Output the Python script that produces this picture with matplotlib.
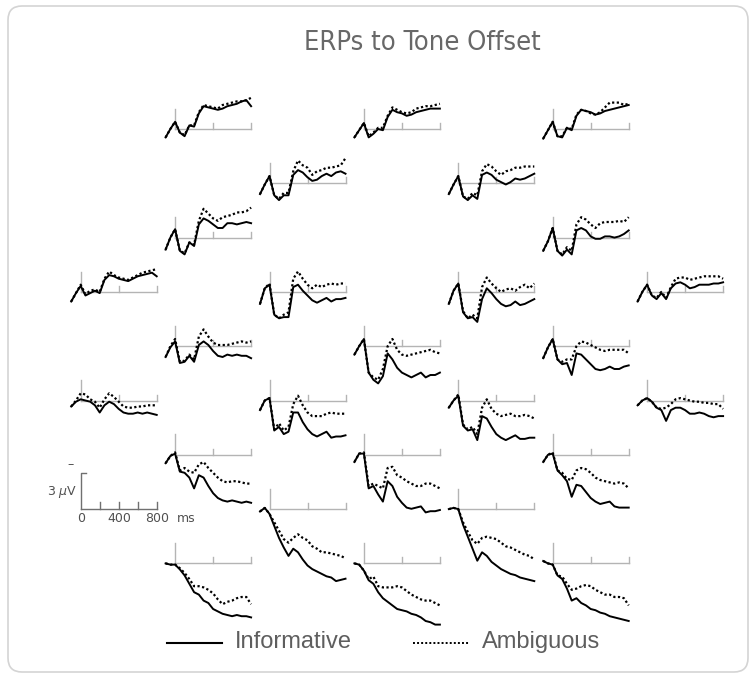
import numpy as np
import matplotlib
matplotlib.use('Agg')
import matplotlib.pyplot as plt
from matplotlib.patches import FancyBboxPatch
from matplotlib import font_manager

# time axis of every waveform (ms after tone offset)
times = list(range(-100, 801, 50))

# amplitudes in microvolts (negative plotted up), informative / ambiguous
# row 1
inf_01 = [0.7, 0.0, -0.6, 0.3, 0.6, -0.3, -0.2, -1.3, -1.9, -1.8, -1.7, -1.6, -1.7, -1.9, -2.0, -2.1, -2.3, -2.4, -1.9]
amb_01 = [0.7, 0.0, -0.6, 0.3, 0.5, -0.3, -0.3, -1.4, -2.0, -1.9, -1.8, -1.7, -2.0, -2.1, -2.2, -2.3, -2.3, -2.4, -2.6]
inf_02 = [0.7, 0.1, -0.5, 0.7, 0.4, 0.0, 0.1, -1.0, -1.6, -1.4, -1.3, -1.1, -1.2, -1.4, -1.5, -1.6, -1.7, -1.7, -1.7]
amb_02 = [0.7, 0.1, -0.5, 0.6, 0.3, -0.1, -0.1, -1.1, -1.8, -1.6, -1.4, -1.3, -1.4, -1.7, -1.8, -1.9, -1.9, -2.0, -2.1]
inf_03 = [0.8, 0.1, -0.6, 0.6, 0.7, -0.1, 0.1, -1.1, -1.6, -1.5, -1.4, -1.2, -1.3, -1.5, -1.6, -1.7, -1.8, -1.9, -2.0]
amb_03 = [0.8, 0.1, -0.6, 0.6, 0.6, -0.1, 0.0, -1.2, -1.6, -1.5, -1.3, -1.2, -1.4, -1.8, -2.2, -2.2, -2.2, -2.0, -2.1]
# row 2
inf_04 = [0.9, 0.1, -0.6, 1.0, 1.4, 1.0, 1.0, -0.7, -1.1, -0.9, -0.5, -0.2, -0.3, -0.6, -0.8, -0.6, -0.9, -1.0, -0.8]
amb_04 = [0.9, 0.1, -0.6, 1.0, 1.3, 0.8, 0.8, -1.0, -1.9, -1.5, -1.3, -0.7, -1.0, -1.1, -1.3, -1.3, -1.4, -1.5, -2.1]
inf_05 = [0.9, 0.1, -0.6, 1.1, 1.4, 1.0, 1.3, -0.7, -0.9, -0.7, -0.3, -0.1, 0.1, -0.1, -0.4, -0.3, -0.4, -0.6, -0.8]
amb_05 = [0.9, 0.1, -0.6, 1.1, 1.3, 0.8, 1.0, -1.0, -1.6, -1.4, -1.0, -0.7, -1.0, -1.1, -1.3, -1.3, -1.4, -1.4, -1.4]
# row 3
inf_06 = [1.0, 0.0, -0.7, 1.1, 1.4, 0.4, 0.7, -1.1, -1.6, -1.4, -1.1, -0.8, -0.8, -1.2, -1.2, -1.1, -1.2, -1.3, -1.2]
amb_06 = [1.0, 0.0, -0.7, 1.1, 1.3, 0.4, 0.6, -1.4, -2.4, -2.0, -1.6, -1.4, -1.7, -1.8, -1.9, -2.1, -2.1, -2.2, -2.5]
inf_07 = [1.1, 0.3, -0.8, 1.1, 1.5, 1.0, 1.4, -0.6, -0.8, -0.6, -0.1, 0.1, 0.1, -0.1, -0.1, 0.0, -0.1, -0.3, -0.6]
amb_07 = [1.1, 0.3, -0.8, 1.1, 1.4, 0.8, 1.1, -1.1, -1.7, -1.5, -1.1, -0.8, -1.2, -1.3, -1.3, -1.3, -1.4, -1.3, -1.7]
# row 4
inf_08 = [0.8, 0.1, -0.5, 0.3, 0.1, -0.1, 0.1, -1.0, -1.4, -1.3, -1.1, -1.0, -0.9, -1.1, -1.3, -1.4, -1.5, -1.6, -1.3]
amb_08 = [0.8, 0.1, -0.6, 0.2, -0.1, -0.2, 0.0, -1.1, -1.7, -1.4, -1.2, -1.1, -1.0, -1.2, -1.4, -1.6, -1.7, -1.8, -1.9]
inf_09 = [1.0, -0.3, -0.6, 1.9, 2.2, 2.1, 2.1, -0.4, -0.6, -0.1, 0.3, 0.7, 0.9, 0.7, 0.5, 0.8, 0.6, 0.6, 0.5]
amb_09 = [1.0, -0.3, -0.7, 1.9, 2.2, 1.9, 1.7, -1.1, -1.7, -1.1, -0.6, -0.3, -0.6, -0.4, -0.6, -0.7, -0.6, -0.7, -0.7]
inf_10 = [1.0, -0.1, -0.7, 1.7, 2.2, 2.1, 2.5, 0.6, -0.3, 0.1, 0.6, 1.0, 1.2, 1.1, 0.8, 1.1, 1.0, 0.8, 0.6]
amb_10 = [1.0, -0.1, -0.7, 1.6, 2.2, 1.9, 2.2, -0.4, -1.2, -0.7, -0.3, 0.0, -0.2, -0.3, -0.1, -0.4, -0.6, -0.3, -0.7]
inf_11 = [0.8, 0.0, -0.6, 0.3, 0.6, 0.1, 0.6, -0.3, -0.7, -0.8, -0.6, -0.3, -0.4, -0.6, -0.6, -0.6, -0.7, -0.7, -0.8]
amb_11 = [0.8, 0.0, -0.6, 0.3, 0.5, 0.0, 0.5, -0.4, -1.1, -1.2, -1.2, -1.0, -1.1, -1.2, -1.3, -1.3, -1.3, -1.3, -1.1]
# row 5
inf_12 = [0.9, 0.1, -0.4, 1.4, 1.3, 0.8, 1.3, -0.1, -0.4, -0.1, 0.4, 0.8, 0.9, 0.7, 0.8, 0.7, 0.8, 0.8, 1.0]
amb_12 = [0.9, 0.0, -0.6, 1.3, 1.2, 0.7, 1.1, -0.8, -1.4, -0.8, -0.3, -0.1, -0.1, -0.1, -0.2, -0.3, -0.4, -0.3, -0.4]
inf_13 = [0.7, 0.0, -0.6, 2.2, 2.8, 3.1, 2.5, 0.6, 1.1, 1.8, 2.2, 2.4, 2.6, 2.4, 2.2, 2.6, 2.4, 2.4, 2.2]
amb_13 = [0.7, 0.0, -0.6, 2.2, 2.6, 2.8, 1.9, 0.0, -0.6, 0.3, 0.7, 0.8, 0.7, 0.6, 0.5, 0.4, 0.3, 0.5, 0.6]
inf_14 = [1.0, 0.1, -0.6, 1.1, 1.5, 1.4, 2.4, 0.6, 0.7, 1.1, 1.5, 1.9, 2.0, 1.9, 1.7, 1.9, 1.9, 1.7, 1.6]
amb_14 = [1.0, 0.1, -0.6, 1.1, 1.3, 1.1, 1.1, 0.0, -0.4, -0.3, -0.1, 0.1, 0.3, 0.4, 0.3, 0.3, 0.3, 0.3, 0.6]
# row 6
inf_15 = [0.5, 0.1, -0.1, 0.0, 0.1, 0.4, 1.0, 0.4, 0.1, 0.3, 0.7, 1.0, 1.1, 1.1, 1.0, 1.1, 1.0, 1.1, 1.2]
amb_15 = [0.5, 0.0, -0.6, -0.5, -0.1, 0.1, 0.6, -0.1, -0.6, -0.3, 0.1, 0.5, 0.6, 0.6, 0.5, 0.5, 0.4, 0.4, 0.4]
inf_16 = [0.8, 0.0, -0.2, 2.5, 2.2, 2.8, 2.6, 1.0, 1.0, 1.8, 2.4, 2.8, 3.0, 2.8, 2.6, 3.1, 3.0, 3.0, 2.9]
amb_16 = [0.8, 0.0, -0.2, 2.4, 1.9, 2.5, 2.2, 0.3, -0.4, 0.4, 1.0, 1.3, 1.3, 1.3, 1.1, 1.0, 1.1, 1.1, 1.1]
inf_17 = [0.6, 0.0, -0.4, 2.1, 2.5, 2.4, 3.3, 1.3, 1.5, 2.2, 2.8, 3.1, 3.3, 3.1, 2.9, 3.2, 3.2, 3.1, 3.1]
amb_17 = [0.6, 0.0, -0.5, 2.0, 2.4, 2.2, 2.8, 0.6, -0.1, 0.7, 1.1, 1.3, 1.2, 1.1, 1.3, 1.3, 1.2, 1.3, 1.5]
inf_18 = [0.4, 0.0, -0.2, 0.1, 0.6, 0.8, 1.7, 0.8, 0.6, 0.6, 0.8, 1.1, 1.1, 1.0, 1.1, 1.3, 1.4, 1.3, 1.3]
amb_18 = [0.4, 0.0, -0.2, 0.1, 0.6, 0.7, 0.6, 0.3, -0.1, -0.2, -0.1, 0.0, 0.1, 0.1, 0.2, 0.2, 0.3, 0.3, 0.7]
# row 7
inf_19 = [0.7, 0.1, -0.1, 1.4, 1.5, 1.9, 2.8, 1.7, 1.9, 2.6, 3.2, 3.6, 3.8, 3.9, 3.8, 3.9, 4.0, 3.9, 4.0]
amb_19 = [0.7, 0.1, -0.2, 1.3, 1.1, 1.4, 1.5, 0.8, 0.6, 1.1, 1.5, 1.9, 2.2, 2.3, 2.2, 2.2, 2.3, 2.4, 2.4]
inf_20 = [0.6, -0.1, -0.1, 2.8, 2.6, 3.3, 3.9, 2.2, 2.6, 3.5, 4.0, 4.4, 4.5, 4.4, 4.3, 4.8, 4.7, 4.7, 4.6]
amb_20 = [0.6, -0.1, -0.2, 2.6, 2.4, 2.6, 2.8, 1.1, 1.0, 1.7, 1.9, 2.2, 2.4, 2.6, 2.6, 2.4, 2.4, 2.6, 2.8]
inf_21 = [0.6, 0.0, -0.1, 1.3, 1.7, 2.2, 3.5, 2.5, 2.6, 3.1, 3.6, 3.9, 4.1, 4.0, 3.9, 4.3, 4.4, 4.4, 4.4]
amb_21 = [0.6, 0.0, -0.2, 1.3, 1.5, 2.0, 2.1, 1.3, 1.1, 1.2, 1.5, 1.9, 2.1, 2.2, 2.3, 2.4, 2.3, 2.4, 2.8]
# row 8
inf_22 = [0.2, -0.1, 0.4, 1.4, 2.4, 3.2, 3.9, 3.3, 3.6, 4.2, 4.7, 5.0, 5.2, 5.4, 5.6, 5.7, 6.0, 5.9, 5.8]
amb_22 = [0.2, -0.1, 0.4, 1.1, 1.8, 2.5, 2.8, 2.4, 2.1, 2.4, 2.6, 3.1, 3.3, 3.6, 3.6, 3.7, 3.8, 3.9, 4.1]
inf_23 = [0.0, -0.1, 0.0, 1.3, 2.3, 3.3, 4.3, 3.6, 3.9, 4.4, 4.7, 5.0, 5.2, 5.4, 5.5, 5.7, 5.8, 5.9, 6.0]
amb_23 = [0.0, -0.1, 0.0, 1.1, 1.9, 2.6, 2.9, 2.4, 2.3, 2.4, 2.5, 2.8, 3.1, 3.2, 3.4, 3.6, 3.8, 3.9, 4.2]
# row 9
inf_24 = [0.0, 0.1, 0.1, 0.5, 1.0, 1.7, 2.4, 2.6, 3.1, 3.3, 3.8, 4.0, 4.2, 4.3, 4.4, 4.3, 4.4, 4.4, 4.5]
amb_24 = [0.0, 0.1, 0.1, 0.4, 0.8, 1.3, 1.9, 1.9, 2.0, 2.2, 2.5, 3.0, 3.4, 3.2, 3.1, 2.9, 2.8, 2.8, 3.4]
inf_25 = [0.0, 0.1, 0.6, 1.4, 1.7, 2.4, 2.9, 3.2, 3.5, 3.8, 3.9, 4.0, 4.2, 4.3, 4.5, 4.8, 4.9, 5.1, 5.1]
amb_25 = [0.0, 0.1, 0.6, 1.3, 1.1, 1.9, 2.0, 2.0, 2.0, 1.9, 2.0, 2.3, 2.6, 2.8, 3.0, 3.1, 3.1, 3.3, 3.5]
inf_26 = [-0.2, 0.0, 0.1, 1.0, 1.3, 2.1, 3.1, 2.9, 3.3, 3.5, 3.8, 3.9, 4.1, 4.2, 4.4, 4.5, 4.6, 4.7, 4.8]
amb_26 = [-0.2, 0.0, 0.1, 1.0, 1.1, 1.7, 2.2, 2.1, 1.9, 1.8, 1.9, 2.2, 2.4, 2.6, 2.6, 2.8, 2.8, 2.9, 3.5]

informative = [inf_01, inf_02, inf_03, inf_04, inf_05, inf_06, inf_07, inf_08, inf_09, inf_10,
               inf_11, inf_12, inf_13, inf_14, inf_15, inf_16, inf_17, inf_18, inf_19, inf_20,
               inf_21, inf_22, inf_23, inf_24, inf_25, inf_26]
ambiguous = [amb_01, amb_02, amb_03, amb_04, amb_05, amb_06, amb_07, amb_08, amb_09, amb_10,
             amb_11, amb_12, amb_13, amb_14, amb_15, amb_16, amb_17, amb_18, amb_19, amb_20,
             amb_21, amb_22, amb_23, amb_24, amb_25, amb_26]

# scalp layout: (column, row) of each site
cols = [1, 3, 5, 2, 4, 1, 5, 0, 2, 4, 6, 1, 3, 5, 0, 2, 4, 6, 1, 3, 5, 2, 4, 1, 3, 5]
rows = [0, 0, 0, 1, 1, 2, 2, 3, 3, 3, 3, 4, 4, 4, 5, 5, 5, 5, 6, 6, 6, 7, 7, 8, 8, 8]

W, H = 756, 677
X0, DX = 80.7, 94.4      # pixel x of the 0 ms line of column 0, column spacing
Y0, DY = 129.0, 54.3     # pixel y of the baseline of row 0, row spacing
PX_MS = 76 / 800.0       # pixels per ms
PX_UV = 12.0             # pixels per microvolt
T_LO, T_HI = -130, 830
V_TOP, V_BOT = -3.3, 6.6

GRID = '#b4b4b4'
TXT = '#5e5e5e'

# a narrow face for the title if one is installed
narrow = None
for f in font_manager.fontManager.ttflist:
    if ('Narrow' in f.name or 'Condensed' in f.name or f.stretch in ('condensed', 'semi-condensed')) \
            and f.weight in (400, 'normal', 'regular') and f.style == 'normal':
        narrow = f.fname
        break
if narrow:
    title_font = font_manager.FontProperties(fname=narrow, size=19.5)
else:
    title_font = font_manager.FontProperties(family='Liberation Sans', size=18)

fig = plt.figure(figsize=(W / 100, H / 100), dpi=100)

bg = fig.add_axes([0, 0, 1, 1])
bg.set_xlim(0, W)
bg.set_ylim(H, 0)
bg.axis('off')
bg.add_patch(FancyBboxPatch((8, 6), 740, 666, boxstyle='round,pad=0,rounding_size=14',
                            fc='white', ec='#d4d4d4', lw=1.2))
bg.text(422, 43, 'ERPs to Tone Offset', ha='center', va='center',
        fontproperties=title_font, color='#686868')


def panel_axes(xp, yp):
    left = xp + T_LO * PX_MS
    ax = fig.add_axes([left / W, 1 - (yp + V_BOT * PX_UV) / H,
                       (T_HI - T_LO) * PX_MS / W, (V_BOT - V_TOP) * PX_UV / H])
    ax.set_xlim(T_LO, T_HI)
    ax.set_ylim(V_BOT, V_TOP)
    ax.axis('off')
    ax.patch.set_alpha(0)
    return ax


for i in range(len(informative)):
    xp = X0 + cols[i] * DX
    yp = Y0 + rows[i] * DY
    ax = panel_axes(xp, yp)
    ax.plot([0, 800], [0, 0], color=GRID, lw=1.0)
    ax.plot([0, 0], [0, -1.7], color=GRID, lw=1.0)
    ax.plot([400, 400], [0, -0.5], color=GRID, lw=1.0)
    ax.plot([800, 800], [0, -0.5], color=GRID, lw=1.0)
    ax.plot(times, informative[i], color='black', lw=1.4, solid_joinstyle='round')
    ax.plot(times, ambiguous[i], color='black', lw=1.6, ls=(0, (1, 1.1)))

# calibration
cal = panel_axes(81, 509)
cal.plot([0, 800], [0, 0], color='#707070', lw=1.0)
cal.plot([0, 0, 50], [0, -3, -3], color='#707070', lw=1.0)
for t in [200, 400, 600, 800]:
    cal.plot([t, t], [0, -0.6], color='#707070', lw=1.0)
for t, lab in zip([0, 400, 800], ['0', '400', '800']):
    cal.text(t, 0.8, lab, ha='center', va='center', fontsize=9, color='#505050')
cal.text(1010, 0.8, 'ms', ha='left', va='center', fontsize=9, color='#505050')
cal.text(-40, -1.4, r'3 $\mu$V', ha='right', va='center', fontsize=9, color='#505050')
cal.text(-115, -3.7, '\u2013', ha='center', va='center', fontsize=9, color='#505050')

# legend
bg.plot([167, 222], [643, 643], color='black', lw=1.5)
bg.text(235, 642, 'Informative', ha='left', va='center', fontsize=17, color=TXT,
        family=['Liberation Sans', 'DejaVu Sans'])
bg.plot([413, 470], [643, 643], color='black', lw=1.4, ls=(0, (1, 1.1)))
bg.text(482, 642, 'Ambiguous', ha='left', va='center', fontsize=17, color=TXT,
        family=['Liberation Sans', 'DejaVu Sans'])

plt.savefig('out.png', dpi=100)
